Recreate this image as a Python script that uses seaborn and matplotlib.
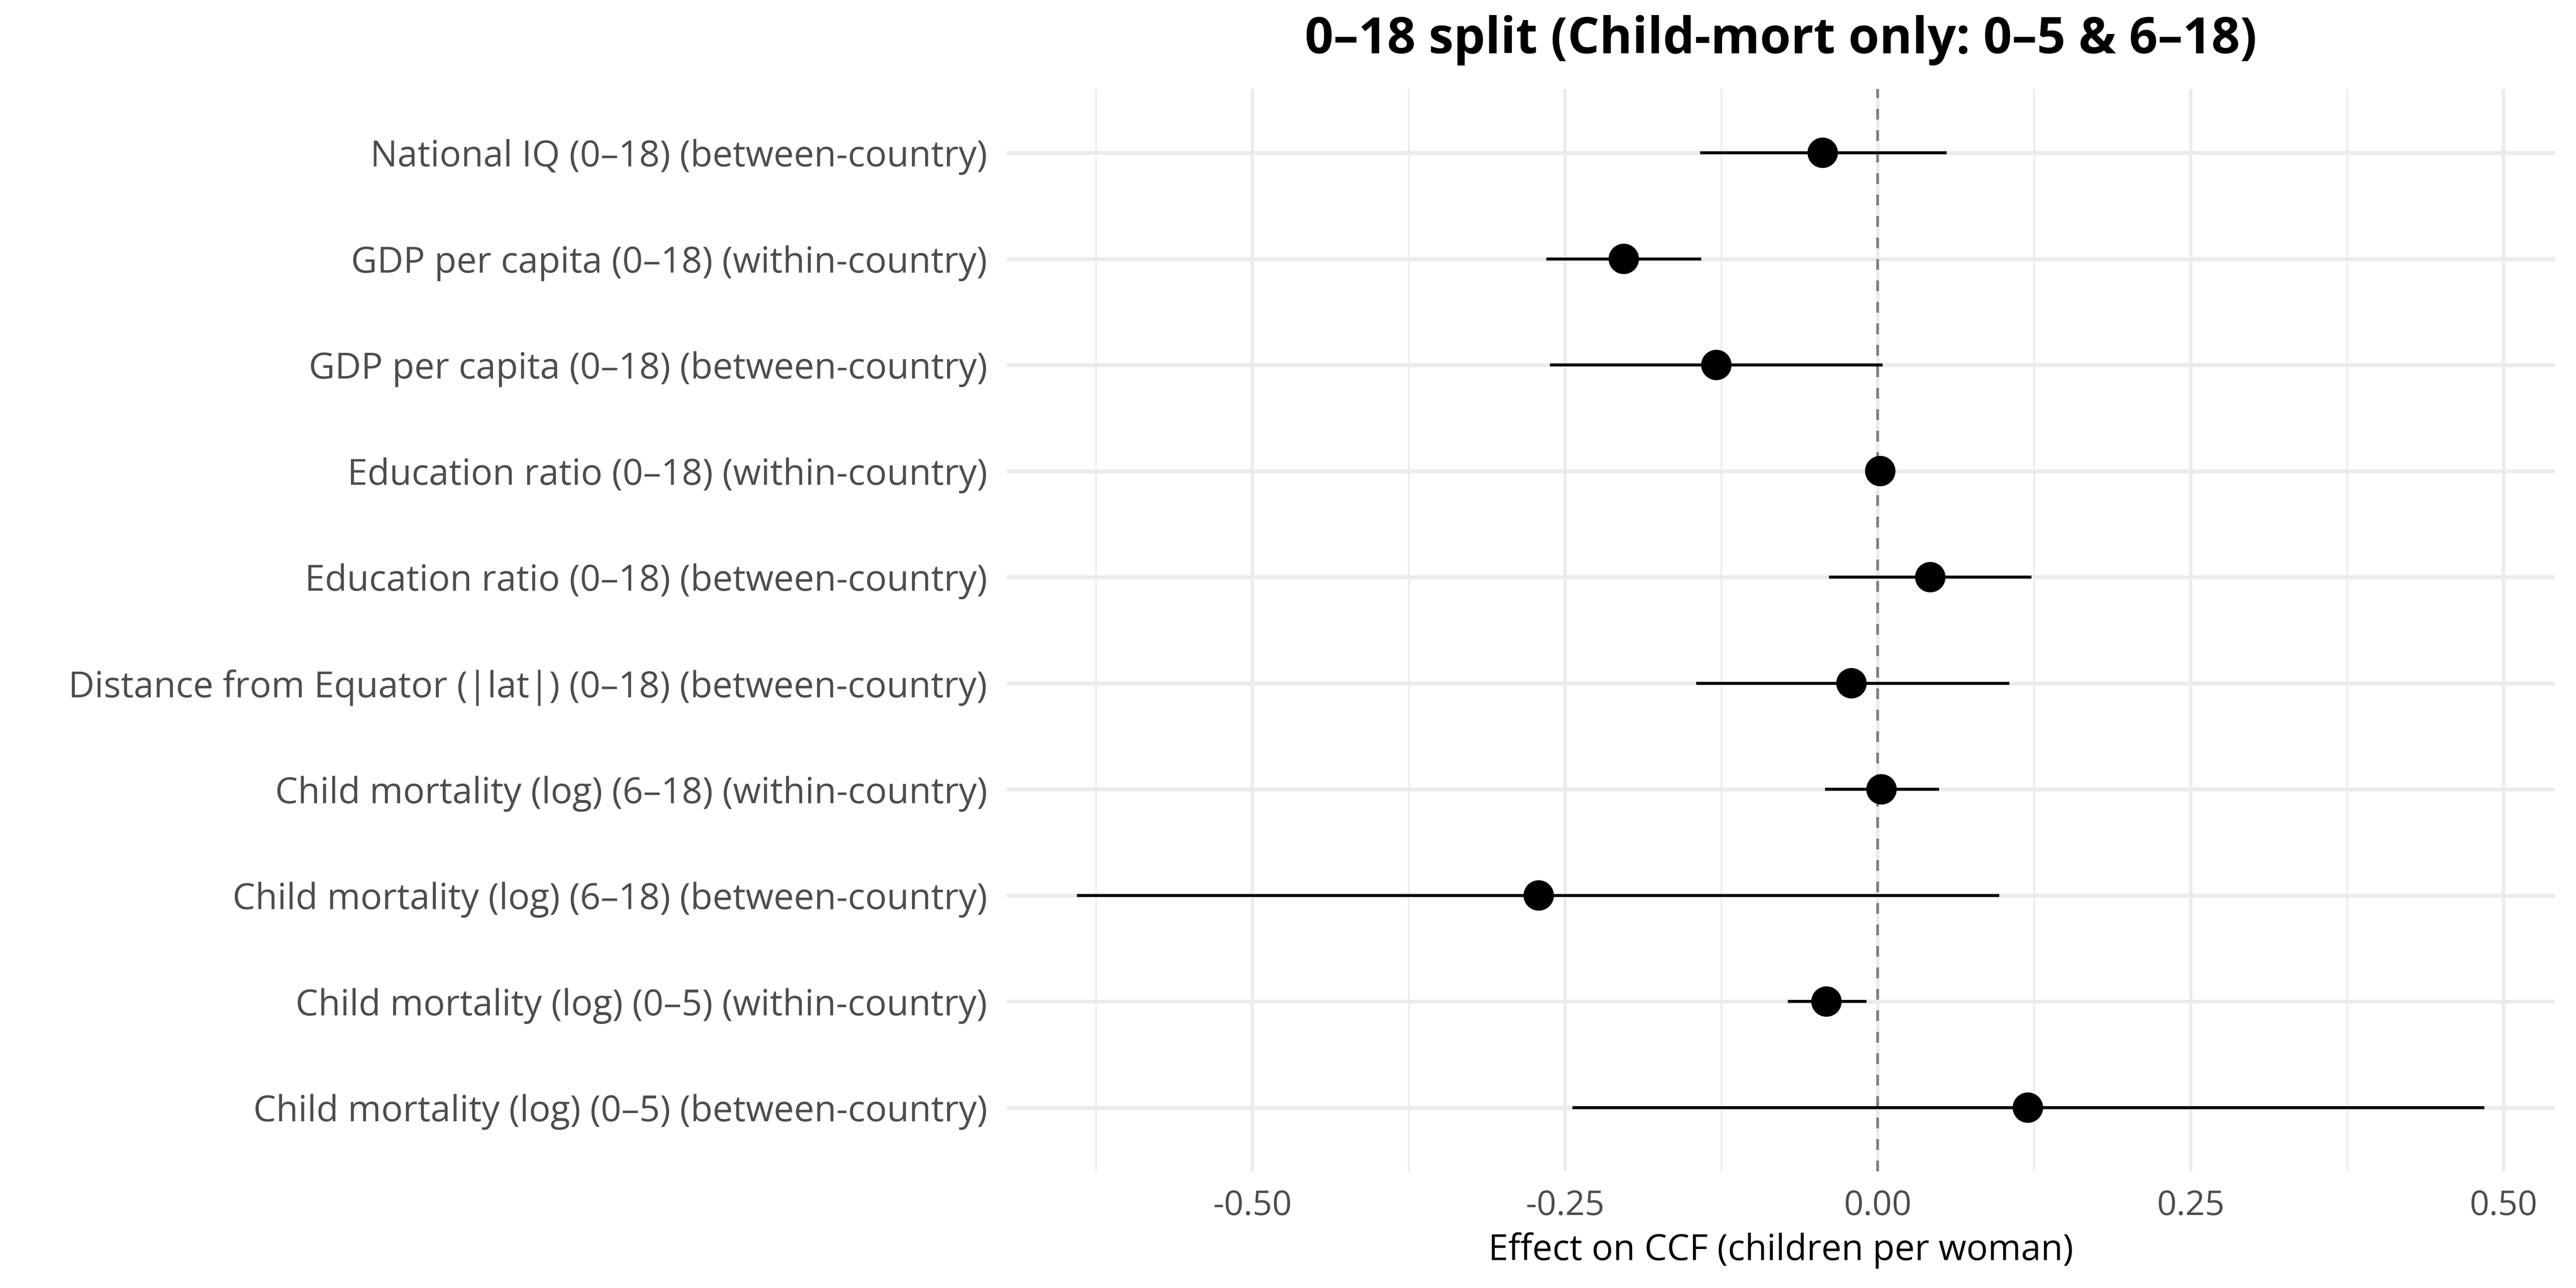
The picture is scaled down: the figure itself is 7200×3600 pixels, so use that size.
import matplotlib
matplotlib.use("Agg")
import matplotlib.pyplot as plt
import seaborn as sns
import pandas as pd
from matplotlib.ticker import FixedLocator, MultipleLocator, FuncFormatter

# ---- data (top to bottom as displayed) ----
terms = [
    "National IQ (0–18) (between-country)",
    "GDP per capita (0–18) (within-country)",
    "GDP per capita (0–18) (between-country)",
    "Education ratio (0–18) (within-country)",
    "Education ratio (0–18) (between-country)",
    "Distance from Equator (|lat|) (0–18) (between-country)",
    "Child mortality (log) (6–18) (within-country)",
    "Child mortality (log) (6–18) (between-country)",
    "Child mortality (log) (0–5) (within-country)",
    "Child mortality (log) (0–5) (between-country)",
]
estimates = [-0.044, -0.203, -0.129, 0.002, 0.042, -0.021, 0.003, -0.271, -0.041, 0.120]
ci_low = [-0.142, -0.265, -0.262, -0.002, -0.039, -0.145, -0.042, -0.640, -0.072, -0.244]
ci_high = [0.055, -0.141, 0.004, 0.006, 0.123, 0.105, 0.049, 0.097, -0.009, 0.485]
x_ticks = [-0.50, -0.25, 0.00, 0.25, 0.50]

title = "0–18 split (Child-mort only: 0–5 & 6–18)"
x_label = "Effect on CCF (children per woman)"

sns.set_theme(style="white")
plt.rcParams["font.family"] = ["Open Sans", "Noto Sans", "DejaVu Sans"]

df = pd.DataFrame({"term": terms, "estimate": estimates, "lo": ci_low, "hi": ci_high})

fig, ax = plt.subplots(figsize=(12, 6), dpi=600)
fig.subplots_adjust(left=0.3908, right=0.9918, top=0.9308, bottom=0.0906)

sns.scatterplot(data=df, x="estimate", y="term", ax=ax, s=104, color="black",
                edgecolor="none", linewidth=0, zorder=4, legend=False)
ypos = ax.yaxis.convert_units(df["term"])
ax.hlines(ypos, df["lo"], df["hi"], color="black", lw=1.0, zorder=3)
ax.axvline(0, color="#7F7F7F", lw=0.9, ls=(0, (4, 4)), zorder=2)

n = len(terms)
ax.set_ylim(n - 1 + 0.6, -0.6)
span = max(ci_high) - min(ci_low)
ax.set_xlim(min(ci_low) - 0.05 * span, max(ci_high) + 0.05 * span)

ax.xaxis.set_major_locator(FixedLocator(x_ticks))
ax.xaxis.set_minor_locator(MultipleLocator(0.125))
ax.xaxis.set_major_formatter(FuncFormatter(lambda v, p: f"{v:.2f}"))

ax.set_axisbelow(True)
ax.grid(which="major", axis="x", color="#EBEBEB", lw=1.1)
ax.grid(which="major", axis="y", color="#EBEBEB", lw=1.3)
ax.grid(which="minor", axis="x", color="#EBEBEB", lw=0.55)
for s in ax.spines.values():
    s.set_visible(False)

ax.tick_params(axis="both", which="both", length=0)
ax.tick_params(axis="y", labelsize=12.1, labelcolor="#4D4D4D", pad=6.5)
ax.tick_params(axis="x", labelsize=11.5, labelcolor="#4D4D4D", pad=6)

ax.set_ylabel("")
ax.set_xlabel(x_label, fontsize=12, color="black", labelpad=3)
ax.set_title(title, fontsize=16.8, fontweight="bold", color="black", pad=12)

fig.savefig("out.png", dpi=600, facecolor="white")
